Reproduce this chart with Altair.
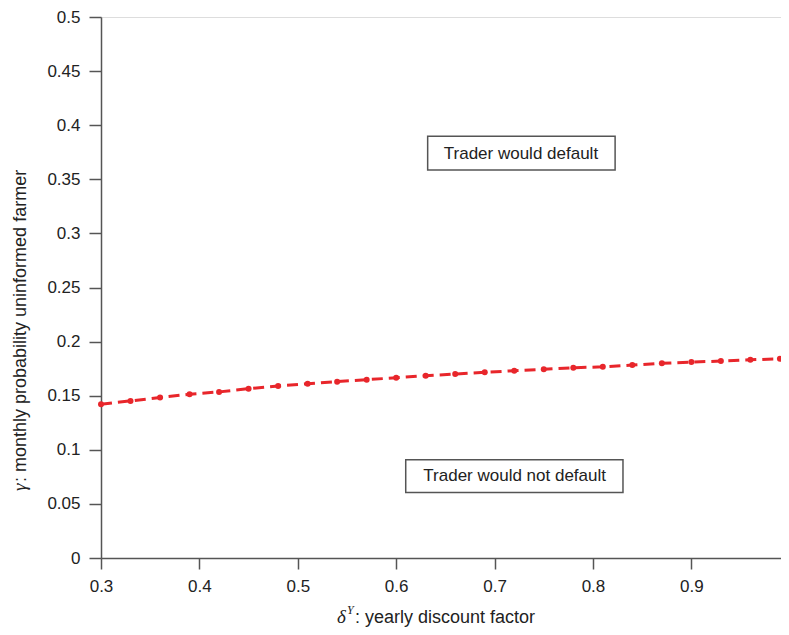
import altair as alt
import pandas as pd

# discount factor (x) and threshold probability (y)
delta_y = [0.30, 0.33, 0.36, 0.39, 0.42, 0.45, 0.48, 0.51, 0.54, 0.57, 0.60, 0.63,
           0.66, 0.69, 0.72, 0.75, 0.78, 0.81, 0.84, 0.87, 0.90, 0.93, 0.96, 0.99]
gamma = [0.1422, 0.1452, 0.1483, 0.1514, 0.1535, 0.1565, 0.1590, 0.1611, 0.1630, 0.1648,
         0.1666, 0.1685, 0.1700, 0.1716, 0.1731, 0.1744, 0.1758, 0.1767, 0.1783, 0.1799,
         0.1811, 0.1820, 0.1832, 0.1841]

x_ticks = [0.3, 0.4, 0.5, 0.6, 0.7, 0.8, 0.9]
y_ticks = [0, 0.05, 0.1, 0.15, 0.2, 0.25, 0.3, 0.35, 0.4, 0.45, 0.5]
x_domain = [0.3, 0.9911]   # the reference's axis runs on to 1, past the window edge
y_domain = [0, 0.5]

# region labels (text, centre x, centre y, box x1, box x2, box y1, box y2)
label_text = ["Trader would default", "Trader would not default"]
label_x = [0.7268, 0.7204]
label_y = [0.373, 0.0758]
box_x1 = [0.6320, 0.6097]
box_x2 = [0.8225, 0.8305]
box_y1 = [0.3586, 0.0606]
box_y2 = [0.3899, 0.0909]

W, H = 680, 541
FONT = "Liberation Sans"
RED = "#e8262b"

df = pd.DataFrame({"x": delta_y, "y": gamma})
lab = pd.DataFrame({"t": label_text, "x": label_x, "y": label_y,
                    "x1": box_x1, "x2": box_x2, "y1": box_y1, "y2": box_y2})
one = pd.DataFrame({"a": [0]})

xs = alt.Scale(domain=x_domain, nice=False, zero=False)
ys = alt.Scale(domain=y_domain, nice=False)

xax = alt.Axis(values=x_ticks, format="~g", title=None, tickSize=11, labelPadding=9,
               labelFontSize=17, labelFont=FONT, labelColor="#222",
               domainColor="#555", tickColor="#555", domainWidth=1.5, tickWidth=1.5,
               grid=False, labelFlush=False)
yax = alt.Axis(values=y_ticks, format="~g", title=None, tickSize=12, labelPadding=9,
               labelFontSize=17, labelFont=FONT, labelColor="#222",
               domainColor="#555", tickColor="#555", domainWidth=1.5, tickWidth=1.5,
               grid=False)

line = alt.Chart(df).mark_line(color=RED, strokeWidth=3, strokeDash=[11, 6]).encode(
    x=alt.X("x:Q", scale=xs, axis=xax),
    y=alt.Y("y:Q", scale=ys, axis=yax),
)
pts = alt.Chart(df).mark_circle(color=RED, opacity=1, size=36).encode(
    x=alt.X("x:Q", scale=xs), y=alt.Y("y:Q", scale=ys))

boxes = alt.Chart(lab).mark_rect(fill="white", stroke="#555", strokeWidth=1.5).encode(
    x=alt.X("x1:Q", scale=xs), x2="x2:Q", y=alt.Y("y1:Q", scale=ys), y2="y2:Q")
texts = alt.Chart(lab).mark_text(font=FONT, fontSize=17, color="#222",
                                 align="center", baseline="middle").encode(
    x=alt.X("x:Q", scale=xs), y=alt.Y("y:Q", scale=ys), text="t:N")

# x-axis title: δ^Y: yearly discount factor
xt1 = alt.Chart(one).mark_text(font="Liberation Serif", fontStyle="italic", fontSize=19,
                               color="#222", align="left", baseline="alphabetic").encode(
    x=alt.value(236), y=alt.value(606), text=alt.value("δ"))
xt2 = alt.Chart(one).mark_text(font="Liberation Serif", fontStyle="italic", fontSize=12,
                               color="#222", align="left", baseline="alphabetic").encode(
    x=alt.value(246), y=alt.value(597), text=alt.value("Y"))
xt3 = alt.Chart(one).mark_text(font=FONT, fontSize=18, color="#222",
                               align="left", baseline="alphabetic").encode(
    x=alt.value(254), y=alt.value(606), text=alt.value(": yearly discount factor"))

# y-axis title: γ: monthly probability uninformed farmer
yt1 = alt.Chart(one).mark_text(font="Liberation Serif", fontStyle="italic", fontSize=19,
                               color="#222", align="left", baseline="alphabetic",
                               angle=270).encode(
    x=alt.value(-75), y=alt.value(474), text=alt.value("γ"))
yt2 = alt.Chart(one).mark_text(font=FONT, fontSize=18, color="#222", align="left",
                               baseline="alphabetic", angle=270).encode(
    x=alt.value(-75), y=alt.value(465),
    text=alt.value(": monthly probability uninformed farmer"))

chart = alt.layer(line, pts, boxes, texts, xt1, xt2, xt3, yt1, yt2).properties(
    width=W, height=H,
    autosize=alt.AutoSizeParams(type="none"),
    padding={"left": 93, "top": 9, "right": 0, "bottom": 69},
).configure_view(stroke=None).configure(background="white")

chart.save("out.html", embed_options={"renderer": "svg", "actions": False})
